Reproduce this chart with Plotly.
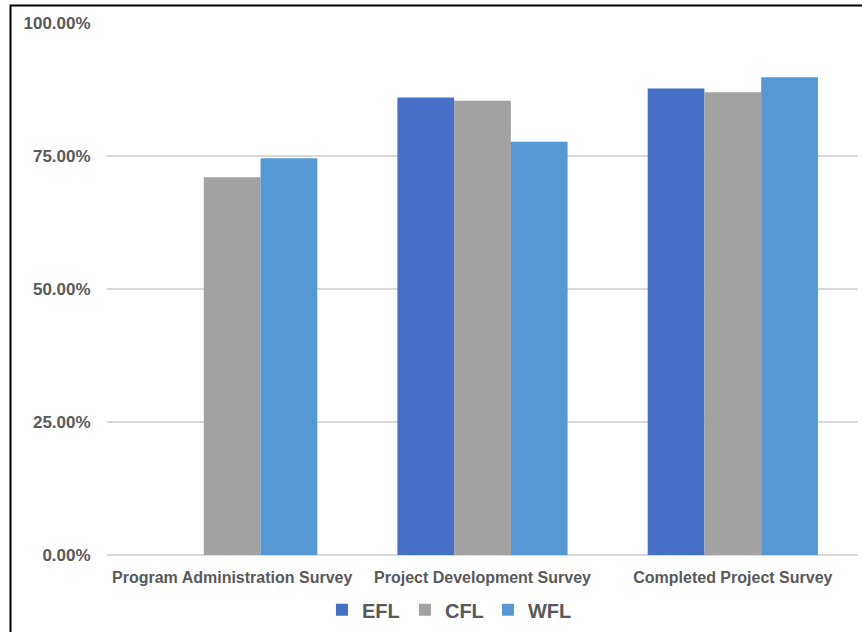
import plotly.graph_objects as go

categories = ["Program Administration Survey", "Project Development Survey", "Completed Project Survey"]
series_names = ["EFL", "CFL", "WFL"]
efl = [None, 0.860, 0.877]
cfl = [0.710, 0.854, 0.870]
wfl = [0.746, 0.777, 0.898]
y_ticks = [0, 0.25, 0.5, 0.75, 1.0]

colors = {"EFL": "#4670c6", "CFL": "#a2a2a2", "WFL": "#5598d4"}
values = {"EFL": efl, "CFL": cfl, "WFL": wfl}

fig = go.Figure()
for name in series_names:
    fig.add_trace(go.Bar(
        x=categories, y=values[name], name=name,
        marker=dict(color=colors[name], line=dict(width=0)),
    ))

text_color = "#595959"
font_family = "Liberation Sans, Arial, sans-serif"
fig.update_layout(
    width=862, height=632,
    margin=dict(l=107, r=4, t=23, b=76),
    paper_bgcolor="white", plot_bgcolor="white",
    barmode="group", bargap=0.32, bargroupgap=0,
    font=dict(family=font_family, color=text_color),
    showlegend=True,
    legend=dict(orientation="h", x=0.452, xanchor="center", y=-0.101, yanchor="middle",
                bgcolor="rgba(0,0,0,0)",
                font=dict(size=20, color=text_color, family=font_family, weight="bold"),
                itemwidth=30, entrywidth=38, traceorder="normal"),
    xaxis=dict(showgrid=False, showline=False, zeroline=False,
               tickfont=dict(size=16, color=text_color, family=font_family, weight="bold"),
               ticks="outside", ticklen=8, tickcolor="rgba(0,0,0,0)"),
    yaxis=dict(range=[0, 1.0], tickvals=y_ticks, tickformat=".2%",
               showgrid=True, gridcolor="#d9d9d9", gridwidth=1.5,
               zeroline=True, zerolinecolor="#d9d9d9", zerolinewidth=1.5,
               showline=False,
               tickfont=dict(size=17, color=text_color, family=font_family, weight="bold"),
               ticks="outside", ticklen=12, tickcolor="rgba(0,0,0,0)"),
)

# chart frame border (top and left visible)
fig.add_shape(type="rect", xref="paper", yref="paper",
              x0=-0.1285, x1=1.2, y0=-0.3, y1=1.0328,
              line=dict(color="black", width=2), fillcolor="rgba(0,0,0,0)", layer="above")

fig.write_html("out.html", config={"displayModeBar": False},
               post_script="document.body.style.margin='0';document.body.style.padding='0';")
